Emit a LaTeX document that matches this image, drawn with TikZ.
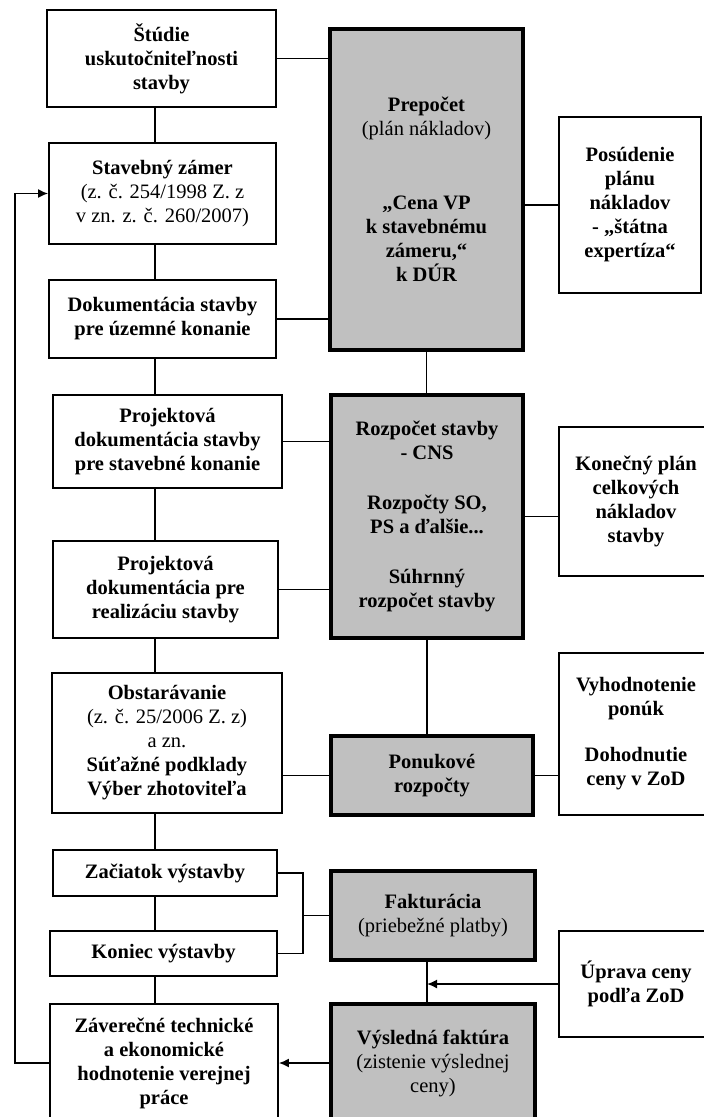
\documentclass[tikz,border=0pt]{standalone}
\usepackage{fontspec}
\setmainfont{Liberation Serif}
\usetikzlibrary{arrows.meta}
\definecolor{costgray}{RGB}{192,192,192}

\begin{document}
\begin{tikzpicture}[x=1pt,y=-1pt]
	\tikzstyle{every node}=[align=center,inner sep=2pt,
	font=\fontsize{20.5}{24}\selectfont\bfseries]
	\tikzstyle{stagebox}=[draw,line width=1.8pt]
	\tikzstyle{costbox}=[draw,line width=4pt,fill=costgray]
	\tikzstyle{link}=[line width=1.6pt]
	\tikzstyle{feed}=[link,-{Latex[length=10pt,width=9pt]}]
	\useasboundingbox (0,0) rectangle (704,1117);
	\clip (0,0) rectangle (704,1117);
	\coordinate (spine) at (155,0);
	\coordinate (back) at (15,0);
	\coordinate (fork) at (303,915.5);
	
	\node[stagebox,minimum width=229,minimum height=97] (studie) at (161.5,58.5)
	{Štúdie\\uskutočniteľnosti\\stavby};
	\node[stagebox,minimum width=227,minimum height=101] (zamer) at (162.5,193.5)
	{Stavebný zámer\\{\mdseries(z. č. 254/1998 Z. z}\\{\mdseries v zn. z. č. 260/2007)}};
	\node[stagebox,minimum width=227,minimum height=78] (dur) at (162.5,319)
	{Dokumentácia stavby\\pre územné konanie};
	\node[stagebox,minimum width=229,minimum height=93] (pdsk) at (167.5,441.5)
	{Projektová\\dokumentácia stavby\\pre stavebné konanie};
	\node[stagebox,minimum width=225,minimum height=97] (pdrs) at (165.5,589.5)
	{Projektová\\dokumentácia pre\\realizáciu stavby};
	\node[stagebox,minimum width=230,minimum height=140] (obst) at (167,743)
	{Obstarávanie\\{\mdseries(z. č. 25/2006 Z. z)}\\{\mdseries a zn.}\\Súťažné podklady\\Výber zhotoviteľa};
	\node[stagebox,minimum width=224,minimum height=46] (zaciatok) at (165,873)
	{Začiatok výstavby};
	\node[stagebox,minimum width=227,minimum height=45] (koniec) at (163.5,953.5)
	{Koniec výstavby};
	\node[stagebox,minimum width=228,minimum height=118] (zaver) at (164,1063)
	{Záverečné technické\\a ekonomické\\hodnotenie verejnej\\práce};
	
	\node[costbox,minimum width=193,minimum height=321] (prepocet) at (426.5,189.5)
	{Prepočet\\{\mdseries(plán nákladov)}\\[50pt]„Cena VP\\k stavebnému\\zámeru,“\\k DÚR};
	\node[costbox,minimum width=192,minimum height=243] (rozpocet) at (427,516.5)
	{Rozpočet stavby\\- CNS\\[26pt]Rozpočty SO,\\PS a ďalšie...\\[26pt]Súhrnný\\rozpočet stavby};
	\node[costbox,minimum width=202,minimum height=79] (ponuk) at (432,775.5)
	{Ponukové\\rozpočty};
	\node[costbox,minimum width=204,minimum height=89] (faktur) at (433,915.5)
	{Fakturácia\\{\mdseries(priebežné platby)}};
	\node[costbox,minimum width=204,minimum height=118] (vysled) at (433,1063)
	{Výsledná faktúra\\{\mdseries(zistenie výslednej}\\{\mdseries ceny)}};
	
	\node[stagebox,minimum width=142,minimum height=176] (posud) at (630,205)
	{Posúdenie\\plánu\\nákladov\\- „štátna\\expertíza“};
	\node[stagebox,minimum width=154,minimum height=149] (konec) at (636,501.5)
	{Konečný plán\\celkových\\nákladov\\stavby};
	\node[stagebox,minimum width=154,minimum height=162] (vyhod) at (636,734)
	{Vyhodnotenie\\ponúk\\[22pt]Dohodnutie\\ceny v ZoD};
	\node[stagebox,minimum width=154,minimum height=106] (uprava) at (636,984)
	{Úprava ceny\\podľa ZoD};
	
	\draw[link] (studie.south -| spine) -- (zamer.north -| spine);
	\draw[link] (zamer.south -| spine) -- (dur.north -| spine);
	\draw[link] (dur.south -| spine) -- (pdsk.north -| spine);
	\draw[link] (pdsk.south -| spine) -- (pdrs.north -| spine);
	\draw[link] (pdrs.south -| spine) -- (obst.north -| spine);
	\draw[link] (obst.south -| spine) -- (zaciatok.north -| spine);
	\draw[link] (zaciatok.south -| spine) -- (koniec.north -| spine);
	\draw[link] (koniec.south -| spine) -- (zaver.north -| spine);
	
	\draw[link] (studie.east) -- (studie.east -| prepocet.west);
	\draw[link] (dur.east) -- (dur.east -| prepocet.west);
	\draw[link] (posud.west) -- (posud.west -| prepocet.east);
	\draw[link] (prepocet.south) -- (prepocet.south |- rozpocet.north);
	\draw[link] (pdsk.east) -- (pdsk.east -| rozpocet.west);
	\draw[link] (pdrs.east) -- (pdrs.east -| rozpocet.west);
	\draw[link] (rozpocet.east) -- (rozpocet.east -| konec.west);
	\draw[link] (rozpocet.south) -- (rozpocet.south |- ponuk.north);
	\draw[link] (ponuk.west) -- (ponuk.west -| obst.east);
	\draw[link] (ponuk.east) -- (ponuk.east -| vyhod.west);
	\draw[link] (zaciatok.east) -| (fork);
	\draw[link] (koniec.east) -| (fork);
	\draw[link] (fork) -- (faktur.west);
	\draw[link] (faktur.south -| rozpocet.south) -- (vysled.north -| rozpocet.south);
	\draw[feed] (uprava.west) -- (uprava.west -| rozpocet.south);
	\draw[feed] (vysled.west) -- (zaver.east);
	\draw[feed] (zaver.west) -- (zaver.west -| back) |- (zamer.west);
\end{tikzpicture}
\end{document}
